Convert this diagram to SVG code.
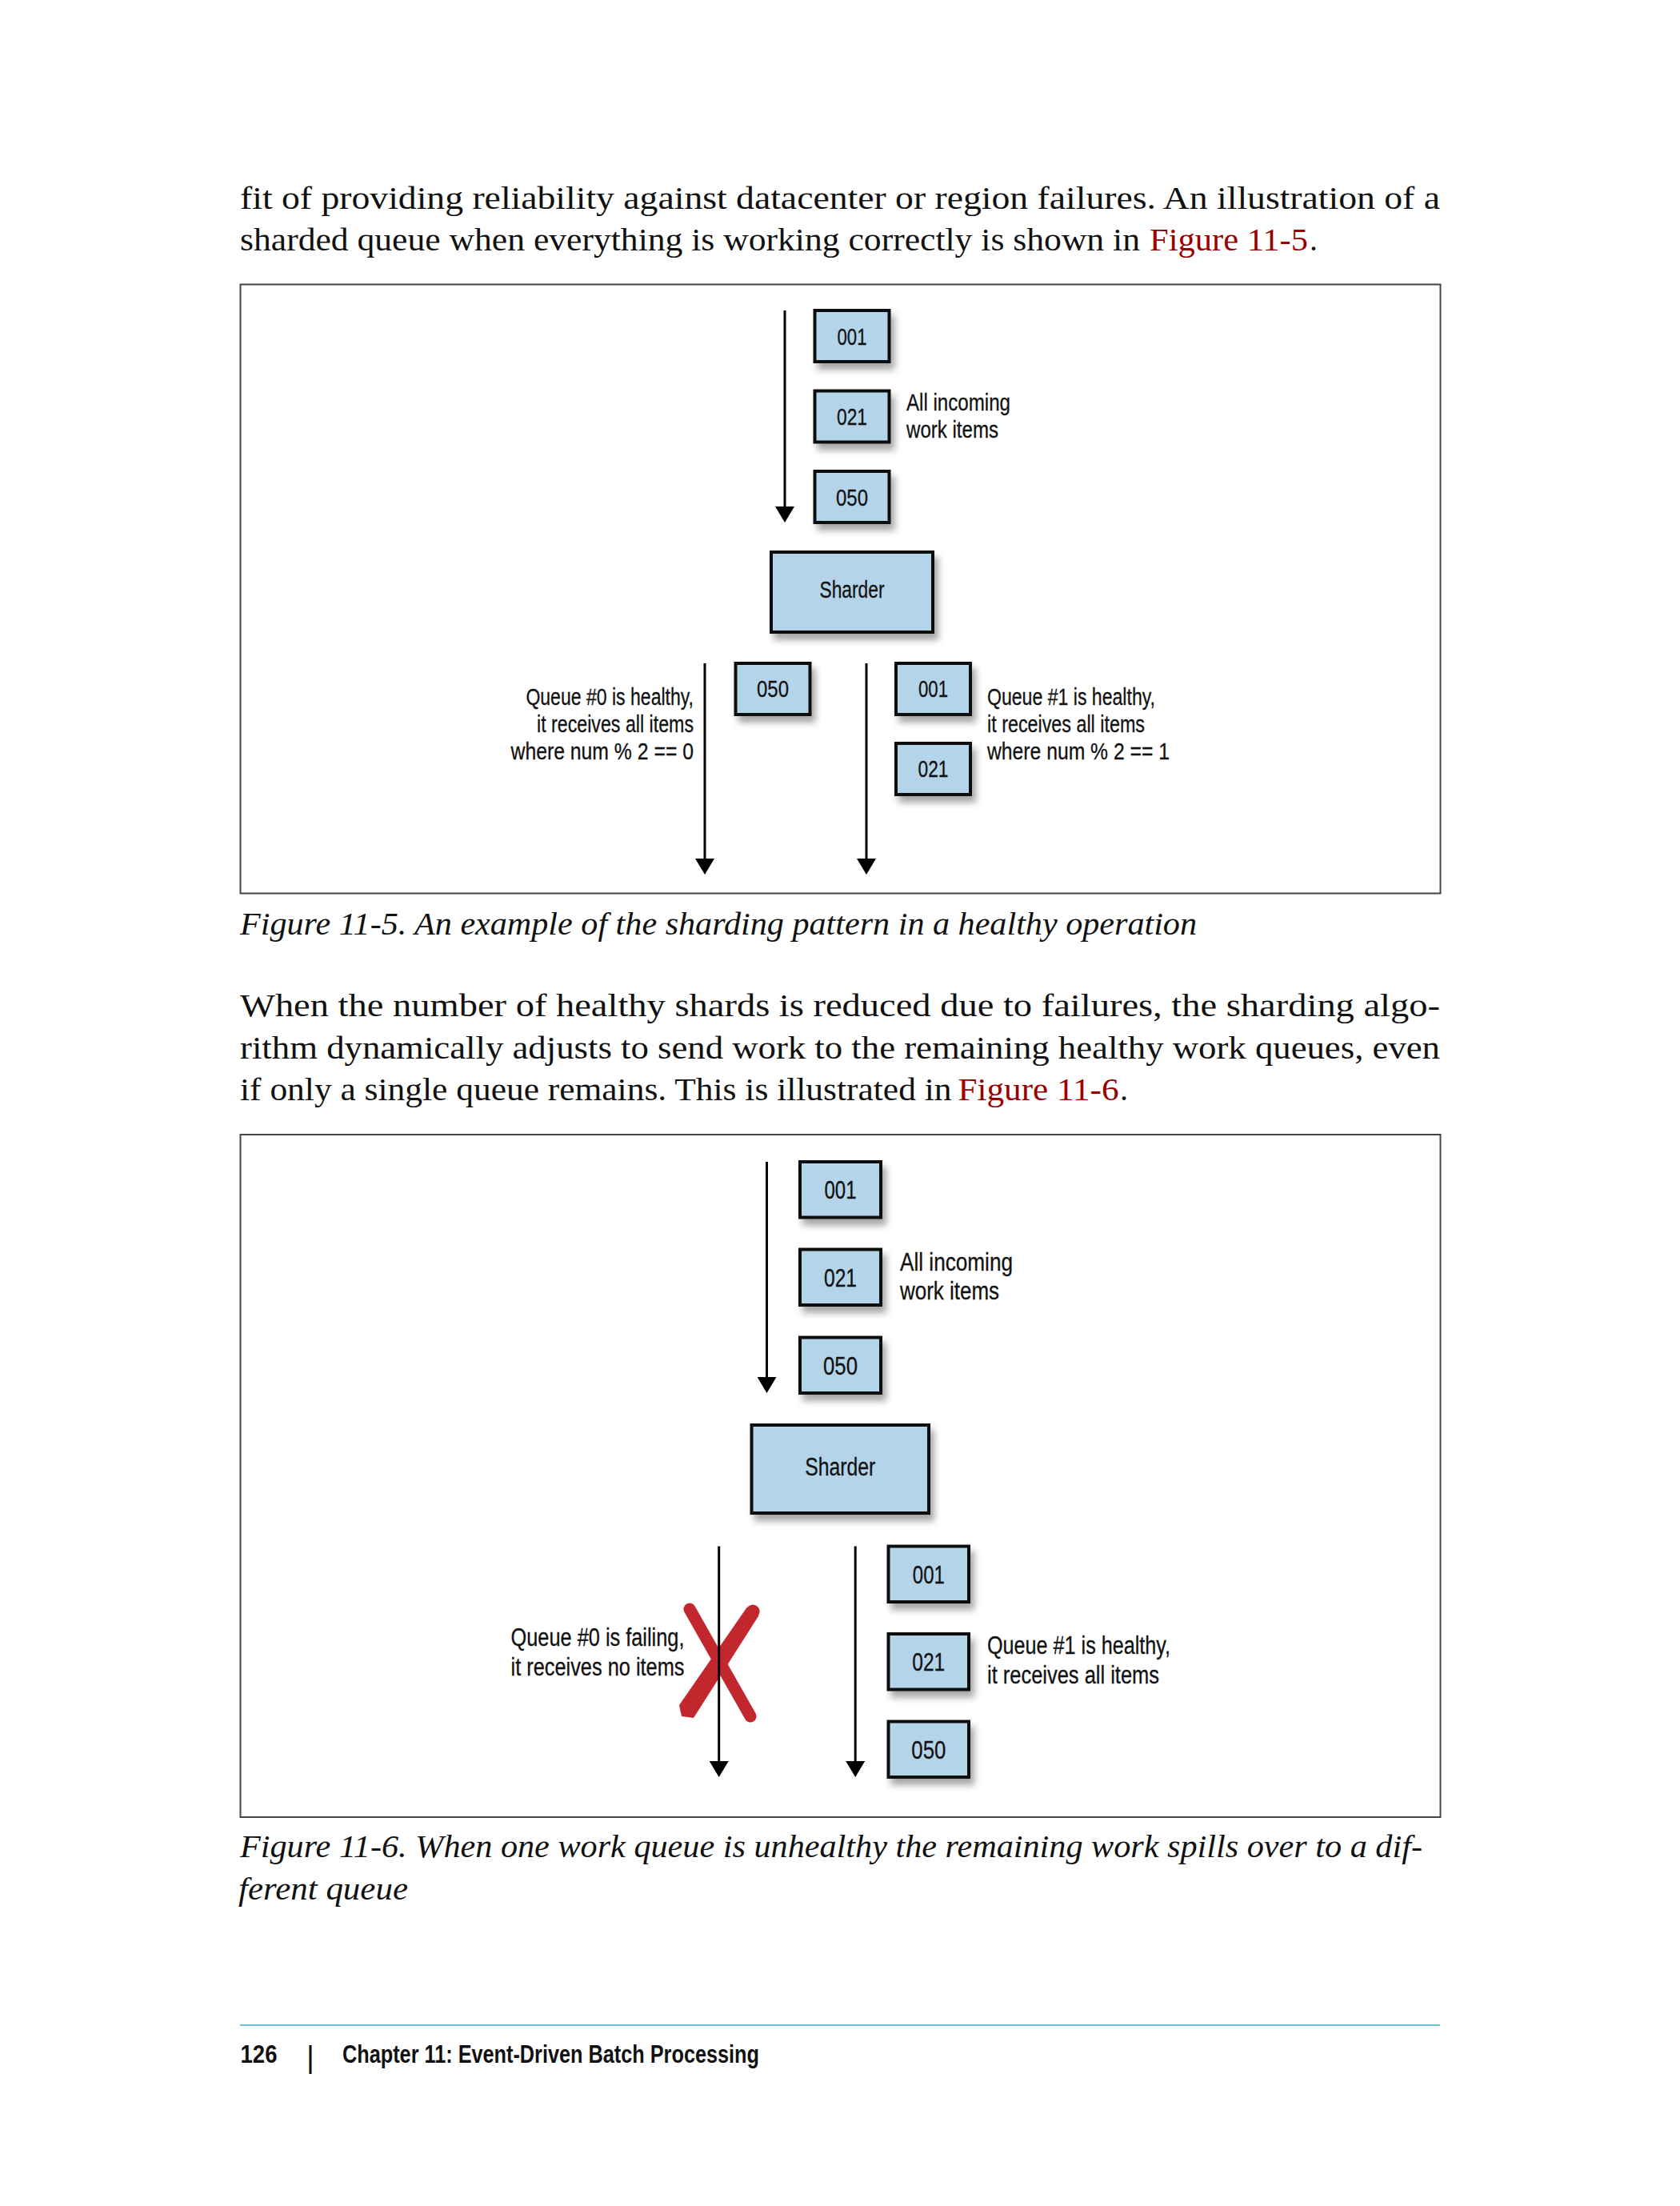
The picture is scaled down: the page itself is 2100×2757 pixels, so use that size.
<svg xmlns="http://www.w3.org/2000/svg" width="2100" height="2757" viewBox="0 0 2100 2757">
<style>
.body{font-family:"Liberation Serif",serif;font-size:40px;fill:#111}
.cap{font-family:"Liberation Serif",serif;font-size:40px;font-style:italic;fill:#111}
.link{fill:#990000}
.lbl{font-family:"Liberation Sans Narrow","Liberation Sans",sans-serif;font-size:29px;fill:#111;stroke:#111;stroke-width:0.3}
.lbl2{font-family:"Liberation Sans Narrow","Liberation Sans",sans-serif;font-size:31px;fill:#111;stroke:#111;stroke-width:0.3}
.foot{font-family:"Liberation Sans Narrow","Liberation Sans",sans-serif;font-size:31px;font-weight:bold;fill:#111}
.box{fill:#b4d4ea;stroke:#111;stroke-width:4;filter:url(#sh)}
.frame{fill:none;stroke:#444;stroke-width:2}
.arr{stroke:#000;stroke-width:3;fill:none;marker-end:url(#ah)}
</style>
<defs>
<filter id="sh" x="-20%" y="-20%" width="150%" height="160%">
<feDropShadow dx="5" dy="8" stdDeviation="4" flood-color="#000" flood-opacity="0.35"/>
</filter>
<marker id="ah" markerUnits="userSpaceOnUse" viewBox="0 0 20 24" markerWidth="20" markerHeight="24" refX="10" refY="12" orient="auto">
<path d="M0,0 L20,12 L0,24 Z" fill="#000"/>
</marker>
</defs>
<rect width="2100" height="2757" fill="#fff"/>

<g id="text-para1">
<text class="body" x="300" y="261" textLength="1500" lengthAdjust="spacingAndGlyphs">fit of providing reliability against datacenter or region failures. An illustration of a</text>
<text class="body" x="300" y="312.5" textLength="1125" lengthAdjust="spacingAndGlyphs">sharded queue when everything is working correctly is shown in</text>
<text class="body link" x="1437" y="312.5" textLength="198" lengthAdjust="spacingAndGlyphs">Figure 11-5</text>
<text class="body" x="1637" y="312.5">.</text>
</g>

<g id="figure-11-5">
<rect class="frame" x="300.5" y="355.5" width="1500" height="761"/>
<g id="connectors-1">
<line class="arr" x1="981" y1="388" x2="981" y2="643"/>
<line class="arr" x1="881" y1="829" x2="881" y2="1083"/>
<line class="arr" x1="1083" y1="829" x2="1083" y2="1083"/>
</g>
<g id="f1-in-001"><rect class="box" x="1018.5" y="388" width="93" height="64"/><text class="lbl" x="1046.5" y="430.5" textLength="37" lengthAdjust="spacingAndGlyphs">001</text></g>
<g id="f1-in-021"><rect class="box" x="1018.5" y="488.5" width="93" height="64"/><text class="lbl" x="1046" y="531" textLength="38" lengthAdjust="spacingAndGlyphs">021</text></g>
<g id="f1-in-050"><rect class="box" x="1018.5" y="589" width="93" height="64"/><text class="lbl" x="1045" y="631.5" textLength="40" lengthAdjust="spacingAndGlyphs">050</text></g>
<g id="f1-incoming-label">
<text class="lbl" x="1133" y="513" textLength="130" lengthAdjust="spacingAndGlyphs">All incoming</text>
<text class="lbl" x="1133" y="546.5" textLength="115" lengthAdjust="spacingAndGlyphs">work items</text>
</g>
<g id="f1-sharder"><rect class="box" x="964" y="690" width="202" height="100"/><text class="lbl" x="1024.5" y="747" textLength="81" lengthAdjust="spacingAndGlyphs">Sharder</text></g>
<g id="f1-q0-050"><rect class="box" x="919.5" y="829" width="93" height="64"/><text class="lbl" x="946" y="870.5" textLength="40" lengthAdjust="spacingAndGlyphs">050</text></g>
<g id="f1-q1-001"><rect class="box" x="1120" y="829" width="93" height="64"/><text class="lbl" x="1148" y="870.5" textLength="37" lengthAdjust="spacingAndGlyphs">001</text></g>
<g id="f1-q1-021"><rect class="box" x="1120" y="929" width="93" height="64"/><text class="lbl" x="1147.5" y="970.5" textLength="38" lengthAdjust="spacingAndGlyphs">021</text></g>
<g id="f1-q0-label">
<text class="lbl" x="657.4" y="881" textLength="209.6" lengthAdjust="spacingAndGlyphs">Queue #0 is healthy,</text>
<text class="lbl" x="671" y="914.5" textLength="196" lengthAdjust="spacingAndGlyphs">it receives all items</text>
<text class="lbl" x="638.5" y="948.5" textLength="228.5" lengthAdjust="spacingAndGlyphs">where num % 2 == 0</text>
</g>
<g id="f1-q1-label">
<text class="lbl" x="1234" y="881" textLength="210" lengthAdjust="spacingAndGlyphs">Queue #1 is healthy,</text>
<text class="lbl" x="1234" y="914.5" textLength="197" lengthAdjust="spacingAndGlyphs">it receives all items</text>
<text class="lbl" x="1234" y="948.5" textLength="228" lengthAdjust="spacingAndGlyphs">where num % 2 == 1</text>
</g>
</g>

<g id="caption-1">
<text class="cap" x="300" y="1168" textLength="1196" lengthAdjust="spacingAndGlyphs">Figure 11-5. An example of the sharding pattern in a healthy operation</text>
</g>

<g id="text-para2">
<text class="body" x="300" y="1270" textLength="1500" lengthAdjust="spacingAndGlyphs">When the number of healthy shards is reduced due to failures, the sharding algo-</text>
<text class="body" x="300" y="1322.5" textLength="1500" lengthAdjust="spacingAndGlyphs">rithm dynamically adjusts to send work to the remaining healthy work queues, even</text>
<text class="body" x="300" y="1375" textLength="889.5" lengthAdjust="spacingAndGlyphs">if only a single queue remains. This is illustrated in</text>
<text class="body link" x="1197.5" y="1375" textLength="201" lengthAdjust="spacingAndGlyphs">Figure 11-6</text>
<text class="body" x="1400" y="1375">.</text>
</g>

<g id="figure-11-6">
<rect class="frame" x="300.5" y="1418" width="1500" height="853"/>
<g id="f2-fail-x">
<line x1="862" y1="2011" x2="938" y2="2145" stroke="#c1272d" stroke-width="15" stroke-linecap="round"/>
<path d="M948.5,2019 L933.5,2009 L849,2131 L852,2145 L867,2147 Z" fill="#c1272d"/>
<circle cx="941" cy="2014" r="8.6" fill="#c1272d"/>
</g>
<g id="connectors-2">
<line class="arr" x1="958.5" y1="1452" x2="958.5" y2="1731"/>
<line class="arr" x1="898.7" y1="1932.5" x2="898.7" y2="2211"/>
<line class="arr" x1="1069.2" y1="1932.5" x2="1069.2" y2="2211"/>
</g>
<g id="f2-in-001"><rect class="box" x="1000" y="1452" width="101" height="69.5"/><text class="lbl2" x="1030.5" y="1498" textLength="40" lengthAdjust="spacingAndGlyphs">001</text></g>
<g id="f2-in-021"><rect class="box" x="1000" y="1561.5" width="101" height="69.5"/><text class="lbl2" x="1030" y="1607.5" textLength="41" lengthAdjust="spacingAndGlyphs">021</text></g>
<g id="f2-in-050"><rect class="box" x="1000" y="1671.5" width="101" height="69.5"/><text class="lbl2" x="1029" y="1717.5" textLength="43" lengthAdjust="spacingAndGlyphs">050</text></g>
<g id="f2-incoming-label">
<text class="lbl2" x="1125" y="1587.5" textLength="141" lengthAdjust="spacingAndGlyphs">All incoming</text>
<text class="lbl2" x="1125" y="1624" textLength="124" lengthAdjust="spacingAndGlyphs">work items</text>
</g>
<g id="f2-sharder"><rect class="box" x="939.5" y="1781" width="221.5" height="110"/><text class="lbl2" x="1006.3" y="1844" textLength="88" lengthAdjust="spacingAndGlyphs">Sharder</text></g>
<g id="f2-q1-001"><rect class="box" x="1110.5" y="1932.5" width="100.5" height="69.5"/><text class="lbl2" x="1140.8" y="1978.5" textLength="40" lengthAdjust="spacingAndGlyphs">001</text></g>
<g id="f2-q1-021"><rect class="box" x="1110.5" y="2042" width="100.5" height="69.5"/><text class="lbl2" x="1140.3" y="2088" textLength="41" lengthAdjust="spacingAndGlyphs">021</text></g>
<g id="f2-q1-050"><rect class="box" x="1110.5" y="2151.5" width="100.5" height="69.5"/><text class="lbl2" x="1139.3" y="2197.5" textLength="43" lengthAdjust="spacingAndGlyphs">050</text></g>
<g id="f2-q0-label">
<text class="lbl2" x="638.5" y="2057" textLength="217" lengthAdjust="spacingAndGlyphs">Queue #0 is failing,</text>
<text class="lbl2" x="638.5" y="2093.5" textLength="217" lengthAdjust="spacingAndGlyphs">it receives no items</text>
</g>
<g id="f2-q1-label">
<text class="lbl2" x="1234" y="2066.5" textLength="229" lengthAdjust="spacingAndGlyphs">Queue #1 is healthy,</text>
<text class="lbl2" x="1234" y="2104" textLength="215" lengthAdjust="spacingAndGlyphs">it receives all items</text>
</g>
</g>

<g id="caption-2">
<text class="cap" x="300" y="2321" textLength="1478" lengthAdjust="spacingAndGlyphs">Figure 11-6. When one work queue is unhealthy the remaining work spills over to a dif-</text>
<text class="cap" x="298" y="2374" textLength="212" lengthAdjust="spacingAndGlyphs">ferent queue</text>
</g>

<g id="footer">
<line x1="300" y1="2531" x2="1800" y2="2531" stroke="#6cc3cc" stroke-width="2"/>
<text class="foot" x="300.5" y="2578" textLength="46" lengthAdjust="spacingAndGlyphs">126</text>
<text x="383" y="2584" style="font-family:'Liberation Sans',sans-serif;font-size:38px;fill:#111">|</text>
<text class="foot" x="428" y="2578" textLength="521" lengthAdjust="spacingAndGlyphs">Chapter 11: Event-Driven Batch Processing</text>
</g>
</svg>
